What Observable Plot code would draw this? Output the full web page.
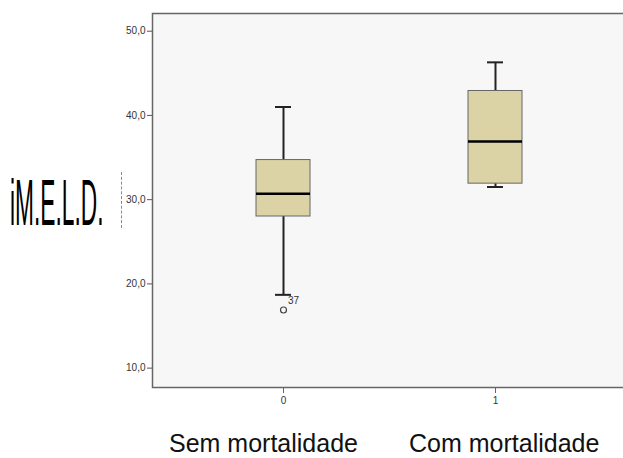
<!DOCTYPE html>
<html>
<head>
<meta charset="utf-8">
<script src="https://cdn.jsdelivr.net/npm/d3@7"></script>
<script src="https://cdn.jsdelivr.net/npm/@observablehq/plot@0.6"></script>
<style>
  html, body { margin: 0; padding: 0; background: #fff; overflow: hidden; }
  #wrap { position: relative; width: 623px; height: 458px; overflow: hidden; font-family: "Liberation Sans", Arial, sans-serif; }
  #chart { position: absolute; left: 0; top: 0; width: 628px; }
  #chart svg { max-width: none !important; }
  .ylab { position: absolute; left: 10px; top: 170px; font-size: 65px; line-height: 65px; white-space: nowrap; transform: scaleX(0.35); transform-origin: 0 0; color: #000; }
  .dash { position: absolute; left: 121px; top: 172px; height: 56px; border-left: 1.3px dashed #888; }
  .cat { position: absolute; top: 434px; font-size: 25px; line-height: 18px; white-space: nowrap; color: #111; }
</style>
</head>
<body>
<div id="wrap">
  <div id="chart"></div>
  <div class="ylab">iM.E.L.D.</div>
  <div class="dash"></div>
  <div class="cat" style="left:169px">Sem mortalidade</div>
  <div class="cat" style="left:409px">Com mortalidade</div>
</div>
<script>
// Groups (x-axis ticks) and box-plot statistics
const groups = ["0", "1"];
const whiskerLow = [18.7, 31.5];
const q1 = [28.0, 31.9];
const median = [30.7, 36.9];
const q3 = [34.7, 42.9];
const whiskerHigh = [41.0, 46.3];
// Outlier
const outGroup = ["0"];
const outValue = [16.9];
const outLabel = ["37"];
// Y ticks
const yTicks = [10, 20, 30, 40, 50];

const stats = groups.map((g, i) => ({
  g, lo: whiskerLow[i], q1: q1[i], med: median[i], q3: q3[i], hi: whiskerHigh[i]
}));
const outliers = outGroup.map((g, i) => ({g, v: outValue[i], label: outLabel[i]}));

const plot = Plot.plot({
  width: 628,
  height: 458,
  marginLeft: 152,
  marginRight: 0,
  marginTop: 13,
  marginBottom: 71,
  style: {fontFamily: "Liberation Sans, Arial, sans-serif", fontSize: "10px", color: "#333", background: "transparent", maxWidth: "none"},
  x: {type: "band", domain: groups, range: [152, 625], paddingInner: 0.746, paddingOuter: 0.4836, label: null},
  y: {domain: [7.7, 52.1], label: null},
  marks: [
    Plot.frame({fill: "#f7f7f7", stroke: "#666", strokeWidth: 1.5}),
    Plot.axisY({ticks: yTicks, tickFormat: d => d.toFixed(1).replace(".", ","), tickSize: 5, tickPadding: 2, stroke: "#555", fill: "#333", fontSize: 10}),
    Plot.axisX({tickSize: 6, tickPadding: 3, stroke: "#666", fill: "#333", fontSize: 10}),
    Plot.ruleX(stats, {x: "g", y1: "lo", y2: "q1", stroke: "#222", strokeWidth: 2}),
    Plot.ruleX(stats, {x: "g", y1: "q3", y2: "hi", stroke: "#222", strokeWidth: 2}),
    Plot.tickY(stats, {x: "g", y: "lo", stroke: "#222", strokeWidth: 2, insetLeft: 19, insetRight: 19}),
    Plot.tickY(stats, {x: "g", y: "hi", stroke: "#222", strokeWidth: 2, insetLeft: 19, insetRight: 19}),
    Plot.barY(stats, {x: "g", y1: "q1", y2: "q3", fill: "#dbd3a6", stroke: "#666", strokeWidth: 1}),
    Plot.tickY(stats, {x: "g", y: "med", stroke: "#000", strokeWidth: 2.5}),
    Plot.dot(outliers, {x: "g", y: "v", r: 3, stroke: "#444", fill: "none", strokeWidth: 1.2}),
    Plot.text(outliers, {x: "g", y: "v", text: "label", dx: 10, dy: -9, fill: "#333", fontSize: 10})
  ]
});
document.getElementById("chart").appendChild(plot);
</script>
</body>
</html>
